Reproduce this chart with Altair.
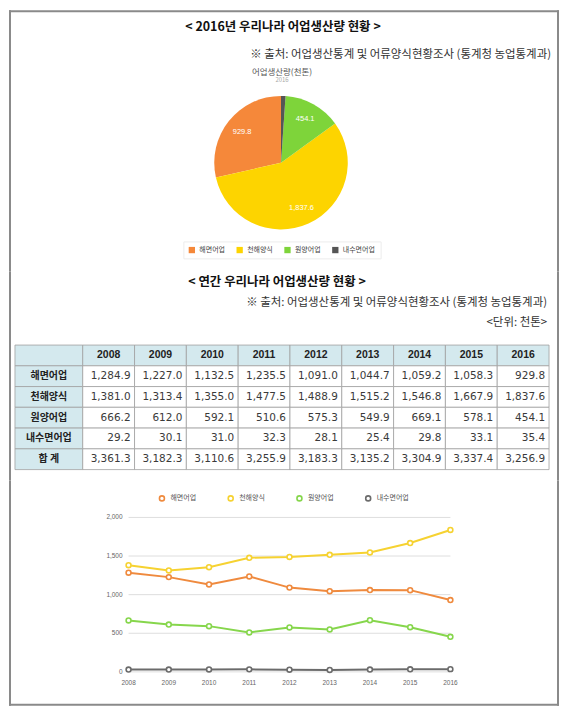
import altair as alt
import pandas as pd

# ---------------- data ----------------
years = [2008, 2009, 2010, 2011, 2012, 2013, 2014, 2015, 2016]
categories = ["해면어업", "천해양식", "원양어업", "내수면어업"]
total_label = "합 계"
header_label = "연도"
haemyeon = [1284.9, 1227.0, 1132.5, 1235.5, 1091.0, 1044.7, 1059.2, 1058.3, 929.8]
cheonhae = [1381.0, 1313.4, 1355.0, 1477.5, 1488.9, 1515.2, 1546.8, 1667.9, 1837.6]
wonyang = [666.2, 612.0, 592.1, 510.6, 575.3, 549.9, 669.1, 578.1, 454.1]
naesu = [29.2, 30.1, 31.0, 32.3, 28.1, 25.4, 29.8, 33.1, 35.4]
totals = [3361.3, 3182.3, 3110.6, 3255.9, 3183.3, 3135.2, 3304.9, 3337.4, 3256.9]

pie_year = "2016"
pie_values = [929.8, 1837.6, 454.1, 35.4]
pie_clockwise = ["내수면어업", "원양어업", "천해양식", "해면어업"]
pie_hidden_label = "내수면어업"
y_ticks = [0, 500, 1000, 1500, 2000]

title1 = "< 2016년 우리나라 어업생산량 현황 >"
source_note = "※ 출처: 어업생산통계 및 어류양식현황조사 (통계청 농업통계과)"
pie_title = "어업생산량(천톤)"
title2 = "< 연간 우리나라 어업생산량 현황 >"
unit_note = "<단위: 천톤>"

pie_colors = ["#f5883a", "#fdd400", "#7ed43a", "#555555"]
line_colors = ["#ef8a3e", "#f6d231", "#86d64c", "#6b6b6b"]
KR = "Noto Sans CJK KR"
FRAME = "#8a8a8a"
W = 552
H_A, H_B, H_C = 262, 210, 226

# ---------------- frames ----------------
series = [haemyeon, cheonhae, wonyang, naesu]
line_df = pd.DataFrame(
    [{"year": y, "category": c, "value": v}
     for c, vals in zip(categories, series) for y, v in zip(years, vals)]
)
table_df = pd.DataFrame(
    [{"year": y, "row": c, "value": v}
     for c, vals in zip(categories + [total_label], series + [totals])
     for y, v in zip(years, vals)]
)
pie_df = pd.DataFrame({
    "category": categories,
    "value": pie_values,
    "ord": [pie_clockwise.index(c) for c in categories],
    "label": ["" if c == pie_hidden_label else f"{v:,.1f}" for c, v in zip(categories, pie_values)],
})


def text_layer(txt, x, y, size, color, weight="normal", align="center", font=KR):
    return alt.Chart(pd.DataFrame({"t": [txt]})).mark_text(
        fontSize=size, color=color, fontWeight=weight, align=align,
        baseline="middle", font=font
    ).encode(text="t:N", x=alt.value(x), y=alt.value(y))


def frame_rule(x1, x2, y1, y2):
    return alt.Chart(pd.DataFrame({"a": [0]})).mark_rule(color=FRAME, strokeWidth=2).encode(
        x=alt.value(x1), x2=alt.value(x2), y=alt.value(y1), y2=alt.value(y2))


def side_frame(h):
    return [frame_rule(1, 1, 0, h), frame_rule(W - 1, W - 1, 0, h)]


# ---------------- panel A: title + pie ----------------
pie_color = alt.Color(
    "category:N",
    scale=alt.Scale(domain=categories, range=pie_colors),
    legend=alt.Legend(
        title=None, orient="none", legendX=175, legendY=232, direction="horizontal",
        symbolType="square", symbolSize=40, symbolStrokeWidth=0,
        labelFont=KR, labelFontSize=7, labelColor="#444", columnPadding=11,
        labelOffset=4, padding=5, strokeColor="#ececec", fillColor="white",
    ),
)
arcs = alt.Chart(pie_df).mark_arc(outerRadius=67).encode(
    theta=alt.Theta("value:Q", stack=True),
    order=alt.Order("ord:Q"),
    color=pie_color,
    x=alt.value(273), y=alt.value(153),
)
arc_labels = alt.Chart(pie_df).mark_text(radius=50, fontSize=7.5, color="white", font="Liberation Sans").encode(
    theta=alt.Theta("value:Q", stack=True),
    order=alt.Order("ord:Q"),
    detail="category:N",
    text="label:N",
    x=alt.value(273), y=alt.value(153),
)
panel_a = alt.layer(
    *side_frame(H_A), frame_rule(0, W, 1, 1),
    text_layer(title1, 275, 17, 12.5, "#111", weight="bold"),
    text_layer(source_note, 544, 45, 11.5, "#333", align="right"),
    text_layer(pie_title, 274, 61.5, 8.5, "#555"),
    text_layer(pie_year, 274, 70.5, 6, "#aaa"),
    arcs, arc_labels,
).properties(width=W, height=H_A)

# ---------------- panel B: table ----------------
row_domain = [header_label] + categories + [total_label]
xt = alt.Scale(domain=years, range=[74, 542], paddingInner=0, paddingOuter=0)
yt = alt.Scale(domain=row_domain, range=[74, 199], paddingInner=0, paddingOuter=0)
blue = "#d4e9ee"
grid_col = "#a0a0a0"

val_cells = alt.Chart(table_df).mark_rect(fill="white", stroke=grid_col, strokeWidth=0.8).encode(
    x=alt.X("year:O", scale=xt, axis=None), y=alt.Y("row:N", scale=yt, axis=None))
hdr_df = pd.DataFrame({"year": years, "row": header_label})
hdr_cells = alt.Chart(hdr_df).mark_rect(fill=blue, stroke=grid_col, strokeWidth=0.8).encode(
    x=alt.X("year:O", scale=xt, axis=None), y=alt.Y("row:N", scale=yt, axis=None))
lab_cells = alt.Chart(pd.DataFrame({"row": row_domain})).mark_rect(fill=blue, stroke=grid_col, strokeWidth=0.8).encode(
    x=alt.value(6), x2=alt.value(74), y=alt.Y("row:N", scale=yt, axis=None))
val_text = alt.Chart(table_df).mark_text(
    align="right", dx=-4, font="DejaVu Sans", fontSize=10.5, color="#3a3a3a"
).encode(
    x=alt.X("year:O", scale=xt, axis=None, bandPosition=1),
    y=alt.Y("row:N", scale=yt, axis=None),
    text=alt.Text("value:Q", format=",.1f"),
)
hdr_text = alt.Chart(hdr_df).mark_text(font="Liberation Sans", fontWeight="bold", fontSize=10.5, color="#222").encode(
    x=alt.X("year:O", scale=xt, axis=None), y=alt.Y("row:N", scale=yt, axis=None), text="year:O")
lab_text = alt.Chart(pd.DataFrame({"row": categories + [total_label]})).mark_text(
    font=KR, fontWeight="bold", fontSize=10, color="#222"
).encode(x=alt.value(40), y=alt.Y("row:N", scale=yt, axis=None), text="row:N")

panel_b = alt.layer(
    *side_frame(H_B),
    text_layer(title2, 269, 11, 12.5, "#111", weight="bold"),
    text_layer(source_note, 540, 32, 11.5, "#333", align="right"),
    text_layer(unit_note, 540, 52, 11.5, "#333", align="right"),
    lab_cells, hdr_cells, val_cells, val_text, hdr_text, lab_text,
).properties(width=W, height=H_B)

# ---------------- panel C: line chart ----------------
xs = alt.Scale(domain=[2008, 2016], range=[120, 443], nice=False, zero=False)
ys = alt.Scale(domain=[0, 2000], range=[192, 37], nice=False)
line_color = alt.Color(
    "category:N",
    scale=alt.Scale(domain=categories, range=line_colors),
    legend=alt.Legend(
        title=None, orient="none", legendX=150, legendY=14, direction="horizontal",
        symbolType="circle", symbolSize=25, symbolStrokeWidth=1.6, symbolFillColor="white",
        labelFont=KR, labelFontSize=7, labelColor="#555", columnPadding=28, labelOffset=5,
    ),
)
tick_df = pd.DataFrame({"v": y_ticks})
grid = alt.Chart(tick_df).mark_rule(color="#dedede", strokeWidth=1).encode(
    y=alt.Y("v:Q", scale=ys, axis=None),
    x=alt.value(120), x2=alt.value(443),
)
ylab = alt.Chart(tick_df).mark_text(align="right", fontSize=6.5, color="#666", font="Liberation Sans").encode(
    y=alt.Y("v:Q", scale=ys, axis=None), x=alt.value(114), text=alt.Text("v:Q", format=","))
xlab = alt.Chart(pd.DataFrame({"year": years})).mark_text(fontSize=6.5, color="#666", font="Liberation Sans").encode(
    x=alt.X("year:Q", scale=xs, axis=None), y=alt.value(203), text=alt.Text("year:Q", format="d"))
lines = alt.Chart(line_df).mark_line(strokeWidth=2).encode(
    x=alt.X("year:Q", scale=xs, axis=None),
    y=alt.Y("value:Q", scale=ys, axis=None),
    color=line_color,
)
points = alt.Chart(line_df).mark_point(filled=False, fill="white", fillOpacity=1, size=24, strokeWidth=1.6).encode(
    x=alt.X("year:Q", scale=xs, axis=None),
    y=alt.Y("value:Q", scale=ys, axis=None),
    color=line_color,
)
panel_c = alt.layer(
    *side_frame(H_C), frame_rule(0, W, H_C - 1, H_C - 1),
    grid, ylab, xlab, lines, points,
).properties(width=W, height=H_C)

chart = alt.vconcat(panel_a, panel_b, panel_c, spacing=0).resolve_scale(
    color="independent"
).properties(
    padding=0, bounds="flush", background="white"
).configure_view(
    strokeWidth=0, stroke=None
)

chart.save("out.html", embed_options={"renderer": "svg", "actions": False})
